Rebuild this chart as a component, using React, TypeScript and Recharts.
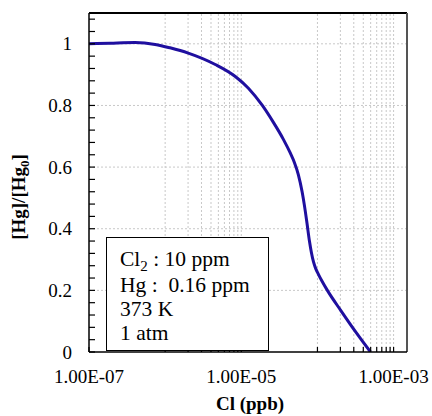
import { ComposedChart, Line, XAxis, YAxis, ReferenceLine } from 'recharts';

// Cl concentration (ppb) and normalised Hg
const clPpb = [
  1e-7, 1.89e-7, 4.03e-7, 7.39e-7, 1.16e-6, 2.01e-6, 4.55e-6, 8.34e-6, 1.24e-5,
  1.89e-5, 2.64e-5, 3.57e-5, 4.41e-5, 4.98e-5, 5.62e-5, 6.29e-5, 6.75e-5, 7.27e-5,
  7.85e-5, 8.34e-5, 8.86e-5, 9.41e-5, 1.03e-4, 1.16e-4, 1.35e-4, 2.01e-4, 3.16e-4,
  4.98e-4,
];
const hgRatio = [
  1.0, 1.002, 1.004, 0.998, 0.987, 0.97, 0.933, 0.894, 0.856,
  0.8, 0.745, 0.69, 0.645, 0.615, 0.575, 0.52, 0.475, 0.42,
  0.36, 0.322, 0.293, 0.273, 0.252, 0.228, 0.2, 0.136, 0.066,
  0,
];

const xMajorTicks = [1e-7, 1e-5, 1e-3];
const xMinorTicks = [
  1e-6, 2e-6, 3e-6, 4e-6, 5e-6, 6e-6, 7e-6, 8e-6, 9e-6,
  1e-4, 2e-4, 3e-4, 4e-4, 5e-4, 6e-4, 7e-4, 8e-4, 9e-4,
];
const xTicks = [...xMajorTicks, ...xMinorTicks].sort((a, b) => a - b);

const yMajorTicks = [0, 0.2, 0.4, 0.6, 0.8, 1];
const yTicks = [
  0, 0.04, 0.08, 0.12, 0.16, 0.2, 0.24, 0.28, 0.32, 0.36, 0.4, 0.44, 0.48, 0.52,
  0.56, 0.6, 0.64, 0.68, 0.72, 0.76, 0.8, 0.84, 0.88, 0.92, 0.96, 1, 1.04, 1.08,
];
const yTickLabels = ['0', '0.2', '0.4', '0.6', '0.8', '1'];

const legendLines = ['Hg :  0.16 ppm', '373 K', '1 atm'];

const FONT = '"Liberation Serif", "Times New Roman", serif';

const data = clPpb.map((cl, i) => ({ cl, hg: hgRatio[i] }));

function formatSci(v: number) {
  const [mant, exp] = v.toExponential(2).split('e');
  const n = parseInt(exp, 10);
  const sign = n < 0 ? '-' : '+';
  return `${mant}E${sign}${String(Math.abs(n)).padStart(2, '0')}`;
}

function XTick({ x, y, payload }: any) {
  const v = payload.value;
  const major = xMajorTicks.includes(v);
  return (
    <g>
      <line x1={x} x2={x} y1={y} y2={y - 5} stroke="#000" strokeWidth={1.2} />
      {major && (
        <text x={x} y={y + 31} textAnchor="middle" fontSize={19} fontFamily={FONT} fill="#000">
          {formatSci(v)}
        </text>
      )}
    </g>
  );
}

function YTick({ x, y, payload }: any) {
  const v = payload.value;
  const idx = yMajorTicks.indexOf(v);
  return (
    <g>
      <line x1={x} x2={x + 6} y1={y} y2={y} stroke="#000" strokeWidth={1.2} />
      {idx >= 0 && (
        <text x={x - 17} y={y + 6.5} textAnchor="end" fontSize={19} fontFamily={FONT} fill="#000">
          {yTickLabels[idx]}
        </text>
      )}
    </g>
  );
}

export default function App() {
  const gridX = xTicks.filter((v) => v > 1e-7);
  const gridY = yMajorTicks.filter((v) => v > 0);

  return (
    <div style={{ position: 'absolute', left: 0, top: 0, width: 432, height: 416, background: '#fff', fontFamily: FONT }}>
      <ComposedChart width={432} height={416} data={data} margin={{ top: 13, right: 25, bottom: 34, left: 29 }}>
        <XAxis
          dataKey="cl"
          type="number"
          scale="log"
          domain={[1e-7, 1.5e-3]}
          allowDataOverflow
          ticks={xTicks}
          interval={0}
          tickSize={0}
          tickMargin={0}
          tickLine={false}
          tick={XTick}
          height={30}
          axisLine={{ stroke: '#000', strokeWidth: 1.5 }}
        />
        <YAxis
          type="number"
          domain={[0, 1.1]}
          allowDataOverflow
          ticks={yTicks}
          interval={0}
          tickSize={0}
          tickMargin={0}
          tickLine={false}
          tick={YTick}
          width={60}
          axisLine={{ stroke: '#000', strokeWidth: 1.5 }}
        />
        {gridX.map((v) => (
          <ReferenceLine key={`gx${v}`} x={v} stroke="#c8c8c8" strokeDasharray="2 2" strokeWidth={1} />
        ))}
        {gridY.map((v) => (
          <ReferenceLine key={`gy${v}`} y={v} stroke="#c8c8c8" strokeDasharray="2 2" strokeWidth={1} />
        ))}
        <ReferenceLine y={1.1} stroke="#000" strokeWidth={2} />
        <ReferenceLine x={1.5e-3} stroke="#555" strokeWidth={2} />
        <Line
          dataKey="hg"
          type="monotone"
          stroke="#1f0f9f"
          strokeWidth={3}
          dot={false}
          isAnimationActive={false}
        />
      </ComposedChart>

      <svg width={432} height={416} style={{ position: 'absolute', left: 0, top: 0, pointerEvents: 'none' }}>
        <text transform="translate(25,197) rotate(-90)" textAnchor="middle" fontSize={19} fontWeight="bold" fontFamily={FONT} fill="#000">
          [Hg]/[Hg<tspan dy={4} fontSize={13}>0</tspan>
          <tspan dy={-4}>]</tspan>
        </text>
        <text x={250} y={410} textAnchor="middle" fontSize={19} fontWeight="bold" fontFamily={FONT} fill="#000">
          Cl (ppb)
        </text>
      </svg>

      <div
        style={{
          position: 'absolute',
          left: 106,
          top: 237,
          width: 148,
          height: 103,
          border: '1.5px solid #000',
          background: '#fff',
          fontSize: 21.5,
          lineHeight: '24px',
          paddingTop: 9,
          paddingLeft: 13,
          boxSizing: 'content-box',
          whiteSpace: 'pre',
          color: '#000',
        }}
      >
        <div>
          Cl<span style={{ fontSize: 15, position: 'relative', top: 5 }}>2</span> : 10 ppm
        </div>
        {legendLines.map((t) => (
          <div key={t}>{t}</div>
        ))}
      </div>
    </div>
  );
}
